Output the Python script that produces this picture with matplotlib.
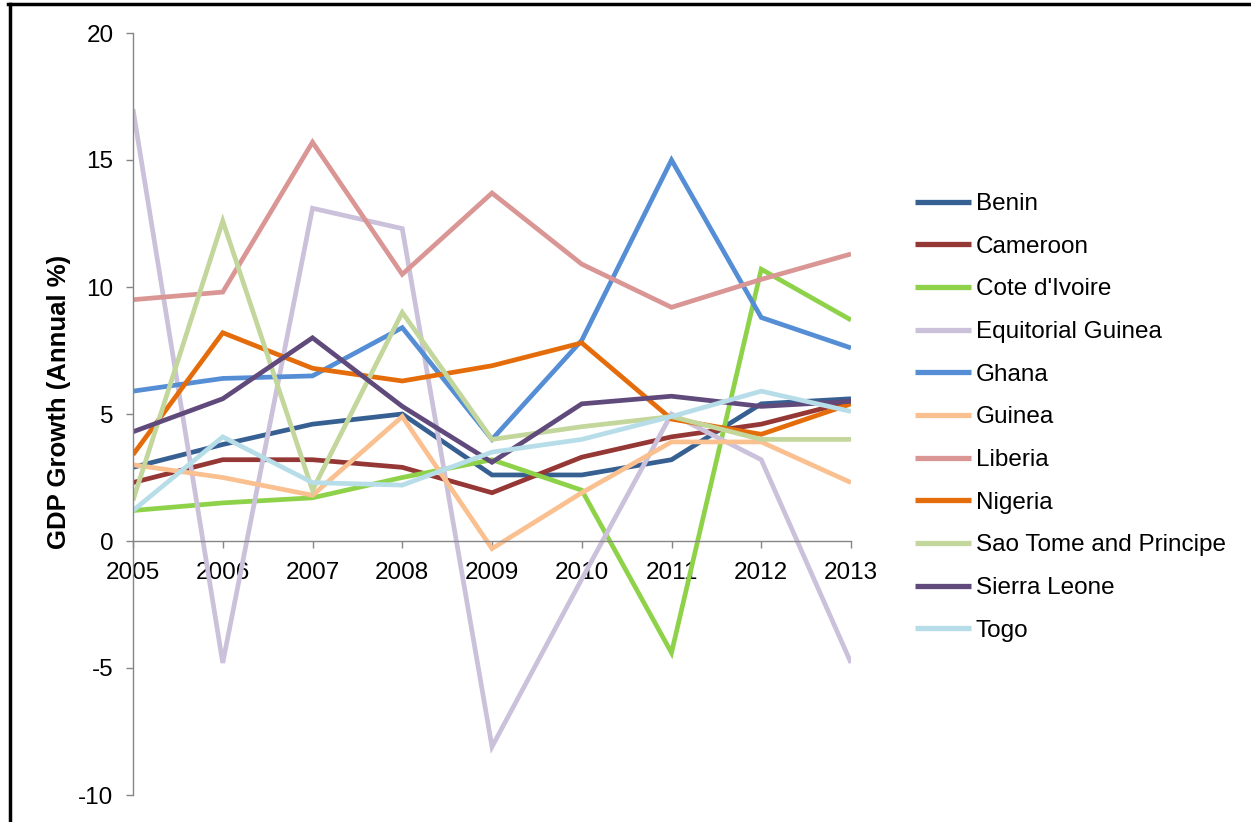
import matplotlib
matplotlib.use("Agg")
import matplotlib.pyplot as plt
from matplotlib.lines import Line2D

plt.rcParams['font.family'] = ['Liberation Sans', 'DejaVu Sans']
plt.rcParams['axes.unicode_minus'] = False

years = [2005, 2006, 2007, 2008, 2009, 2010, 2011, 2012, 2013]

benin = [2.9, 3.8, 4.6, 5.0, 2.6, 2.6, 3.2, 5.4, 5.6]
cameroon = [2.3, 3.2, 3.2, 2.9, 1.9, 3.3, 4.1, 4.6, 5.5]
cote_divoire = [1.2, 1.5, 1.7, 2.5, 3.2, 2.0, -4.4, 10.7, 8.7]
equatorial_guinea = [17.0, -4.8, 13.1, 12.3, -8.1, -1.5, 5.0, 3.2, -4.8]
ghana = [5.9, 6.4, 6.5, 8.4, 4.0, 7.9, 15.0, 8.8, 7.6]
guinea = [3.0, 2.5, 1.8, 4.9, -0.3, 1.9, 3.9, 3.9, 2.3]
liberia = [9.5, 9.8, 15.7, 10.5, 13.7, 10.9, 9.2, 10.3, 11.3]
nigeria = [3.4, 8.2, 6.8, 6.3, 6.9, 7.8, 4.8, 4.2, 5.4]
sao_tome = [1.6, 12.6, 2.0, 9.0, 4.0, 4.5, 4.9, 4.0, 4.0]
sierra_leone = [4.3, 5.6, 8.0, 5.3, 3.1, 5.4, 5.7, 5.3, 5.5]
togo = [1.2, 4.1, 2.3, 2.2, 3.5, 4.0, 4.9, 5.9, 5.1]

countries = ["Benin", "Cameroon", "Cote d'Ivoire", "Equitorial Guinea", "Ghana",
             "Guinea", "Liberia", "Nigeria", "Sao Tome and Principe",
             "Sierra Leone", "Togo"]
series = [benin, cameroon, cote_divoire, equatorial_guinea, ghana, guinea,
          liberia, nigeria, sao_tome, sierra_leone, togo]
colors = ["#376092", "#953735", "#8ED24A", "#CCC1DA", "#558ED5", "#FAC090",
          "#D99694", "#E46C0A", "#C3D69B", "#604A7B", "#B7DEE8"]

fig = plt.figure(figsize=(12.51, 8.22), dpi=100)
ax = fig.add_axes([133/1251, 1-795/822, (851-133)/1251, (795-33)/822])

for name, vals, c in zip(countries, series, colors):
    ax.plot(years, vals, color=c, lw=3.4, label=name, solid_joinstyle='miter',
            solid_capstyle='butt')

ax.set_xlim(2005, 2013)
ax.set_ylim(-10, 20)
ax.set_yticks([-10, -5, 0, 5, 10, 15, 20])
ax.set_xticks(years)
ax.set_xticklabels([str(y) for y in years])

for s in ['top', 'right']:
    ax.spines[s].set_visible(False)
ax.spines['bottom'].set_position(('data', 0))
for s in ['left', 'bottom']:
    ax.spines[s].set_color('#868686')
    ax.spines[s].set_linewidth(1.0)
ax.tick_params(axis='both', direction='out', length=5, width=1.0, color='#868686',
               labelsize=17.5, labelcolor='black')
ax.tick_params(axis='y', pad=9)
ax.tick_params(axis='x', pad=10)

fig.text(59/1251, 1-549/822, "GDP Growth (Annual %)", rotation=90, ha='center',
         va='bottom', fontsize=18.5, fontweight='bold')

leg = fig.legend(loc='upper left', bbox_to_anchor=(915/1251, 1-193/822),
                 frameon=False, fontsize=17.5, handlelength=2.3, handletextpad=0.2,
                 labelspacing=0.85, borderpad=0, borderaxespad=0)
for h in leg.get_lines():
    h.set_linewidth(3.8)

# frame fragments of the surrounding figure box
fig.add_artist(Line2D([8/1251, 1], [1-4.5/822, 1-4.5/822], color='black', lw=2.5,
                      transform=fig.transFigure))
fig.add_artist(Line2D([9.5/1251, 9.5/1251], [0, 1-4.5/822], color='black', lw=2.5,
                      transform=fig.transFigure))

fig.savefig("out.png", dpi=100)
